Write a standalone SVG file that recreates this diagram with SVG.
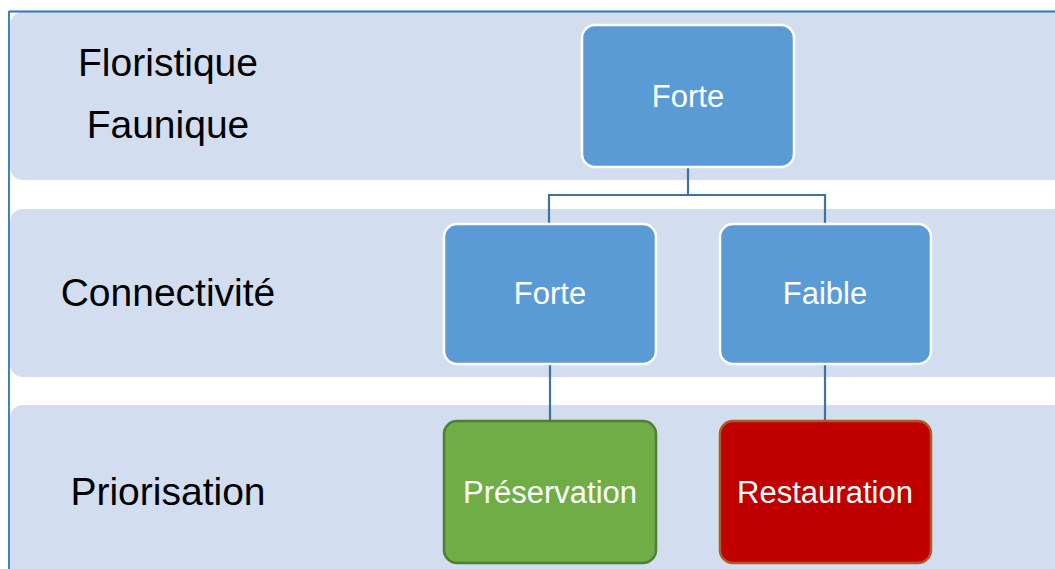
<svg xmlns="http://www.w3.org/2000/svg" width="1055" height="569" viewBox="0 0 1055 569">
<style>
.band{fill:#D2DEEF}
.lbl{font-family:"Liberation Sans",Arial,sans-serif;font-size:39px;fill:#000;text-anchor:middle}
.nt{font-family:"Liberation Sans",Arial,sans-serif;font-size:31px;fill:#fff;text-anchor:middle}
.blue{fill:#5B9BD5;stroke:#fff;stroke-width:2.5}
.green{fill:#70AD47;stroke:#507E32;stroke-width:2.5}
.red{fill:#C00000;stroke:#AE5A21;stroke-width:2.5}
.conn{fill:none;stroke:#41719C;stroke-width:2.2}
</style>
<rect width="1055" height="569" fill="#fff"/>
<g id="bands">
<rect class="band" x="10" y="12" width="1100" height="168" rx="13"/>
<rect class="band" x="10" y="209" width="1100" height="168" rx="13"/>
<rect class="band" x="10" y="405" width="1100" height="200" rx="13"/>
</g>
<path d="M9 11.5 H1055 M9 11 V569" fill="none" stroke="#2E75B6" stroke-width="1.8"/>
<g id="labels">
<text class="lbl" x="168" y="76">Floristique</text>
<text class="lbl" x="168" y="138">Faunique</text>
<text class="lbl" x="168" y="306">Connectivité</text>
<text class="lbl" x="168" y="505">Priorisation</text>
</g>
<g id="connectors">
<path class="conn" d="M688 167 V195 M549 224 V195 H825 V224"/>
<path class="conn" d="M550 364 V421"/>
<path class="conn" d="M825 364 V421"/>
</g>
<g id="n-forte-top">
<rect class="blue" x="582" y="25" width="212" height="142" rx="13"/>
<text class="nt" x="688" y="107">Forte</text>
</g>
<g id="n-forte">
<rect class="blue" x="444" y="224" width="212" height="140" rx="13"/>
<text class="nt" x="550" y="304">Forte</text>
</g>
<g id="n-faible">
<rect class="blue" x="720" y="224" width="211" height="140" rx="13"/>
<text class="nt" x="825" y="304">Faible</text>
</g>
<g id="n-preservation">
<rect class="green" x="444" y="421" width="212" height="142" rx="13"/>
<text class="nt" x="550" y="503">Préservation</text>
</g>
<g id="n-restauration">
<rect class="red" x="720" y="421" width="211" height="142" rx="13"/>
<text class="nt" x="825" y="503">Restauration</text>
</g>
</svg>
